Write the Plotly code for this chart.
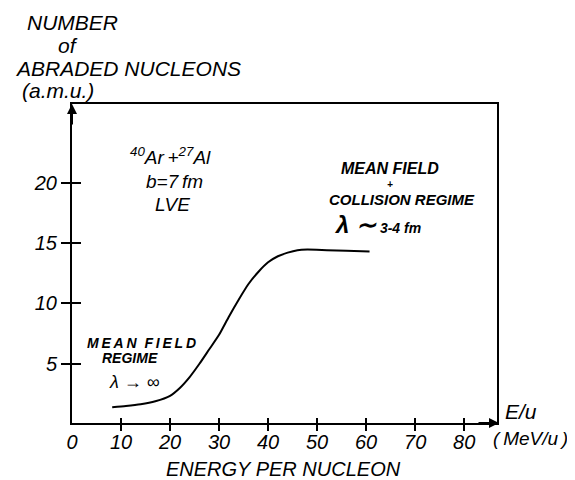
import plotly.graph_objects as go

# ---- data ----
energy = [8.2, 11, 14, 17, 20, 22, 24, 26, 28, 30, 32, 34, 36, 38, 40, 42, 44, 46, 48, 52, 56, 60.7]
nucleons = [1.4, 1.5, 1.65, 1.9, 2.35, 3.0, 3.9, 5.0, 6.2, 7.4, 8.9, 10.3, 11.6, 12.6, 13.4, 13.9, 14.2, 14.4, 14.45, 14.4, 14.35, 14.3]

x_tickvals = [0, 10, 20, 30, 40, 50, 60, 70, 80]
x_ticktext = ["0", "10", "20", "30", "40", "50", "60", "70", "80"]
x_tickmarks = [10, 20, 30, 40, 50, 60, 70, 80]
y_tickvals = [5, 10, 15, 20]
y_ticktext = ["5", "10", "15", "20"]

# ---- layout geometry (pixels in the final page) ----
W, H = 575, 480
OFF = 8  # default page body margin
L, R, T, B = 72, 497, 104, 423

def px(x):
    return (x - L) / (R - L)

def py(y):
    return (B - y) / (B - T)

FONT = "Liberation Sans"
ital = dict(family=FONT, color="black", style="italic")
TS = "\u2009"  # thin space used for letter spacing

def spaced(s):
    return TS.join(s)

fig = go.Figure()
fig.add_trace(go.Scatter(
    x=energy, y=nucleons, mode="lines",
    line=dict(color="black", width=2, shape="spline", smoothing=0.6),
    hoverinfo="skip", showlegend=False,
))
# helper traces so overlay axes (for crossing ticks) get drawn
fig.add_trace(go.Scatter(x=[None], y=[None], xaxis="x2", yaxis="y2",
                         showlegend=False, hoverinfo="skip"))
fig.add_trace(go.Scatter(x=[None], y=[None], xaxis="x3", yaxis="y",
                         showlegend=False, hoverinfo="skip"))

xr = [0, 86.7]
yr = [0.1, 26.5]
tick_style = dict(showgrid=False, zeroline=False, tickcolor="black", tickwidth=2)

fig.update_layout(
    width=W - OFF, height=H - OFF,
    margin=dict(l=L - OFF, r=W - R, t=T - OFF, b=H - B, pad=0),
    paper_bgcolor="white", plot_bgcolor="white",
    xaxis=dict(range=xr, tickmode="array", tickvals=x_tickvals, ticktext=x_ticktext,
               ticks="", showline=True, mirror=True, linecolor="black", linewidth=2,
               tickfont=dict(size=20, **ital), **tick_style),
    yaxis=dict(range=yr, tickmode="array", tickvals=y_tickvals, ticktext=y_ticktext,
               ticks="outside", ticklen=9, showline=True, mirror=True,
               linecolor="black", linewidth=2,
               tickfont=dict(size=20, **ital), **tick_style),
    xaxis2=dict(range=xr, overlaying="x", anchor="y2", side="bottom",
                tickmode="array", tickvals=x_tickmarks, ticks="inside", ticklen=5,
                showticklabels=False, showline=False, **tick_style),
    yaxis2=dict(range=yr, overlaying="y", anchor="x2", side="left",
                tickmode="array", tickvals=y_tickvals, ticks="inside", ticklen=9,
                showticklabels=False, showline=False, **tick_style),
    xaxis3=dict(range=xr, overlaying="x", anchor="y", side="bottom",
                tickmode="array", tickvals=x_tickmarks, ticks="outside", ticklen=7,
                showticklabels=False, showline=False, **tick_style),
)

def note(text, x, y, size, weight="normal", xanchor="center"):
    fig.add_annotation(text=text, x=px(x), y=py(y), xref="paper", yref="paper",
                       showarrow=False, xanchor=xanchor, yanchor="middle",
                       font=dict(size=size, weight=weight, **ital))

# y-axis title block
note("NUMBER", 72, 23, 21)
note("of", 68, 46, 21)
note("ABRADED NUCLEONS", 128, 68, 21)
note("(a.m.u.)", 58, 90, 21)

# system label
note("<sup>40</sup>Ar<sub> </sub>+<sup>27</sup>Al", 170, 157, 19)
note("b=7" + TS + "fm", 174, 181, 19)
note("LVE", 172, 204, 19)

# regime notes
note(spaced("MEAN") + "  " + spaced("FIELD"), 141, 343, 14, "bold")
note("REGIME", 130, 358, 14, "bold")
note("λ → ∞", 134, 382, 18)

note("MEAN FIELD", 390, 168, 16, "bold")
note("+", 390, 184, 10, "bold")
note("COLLISION REGIME", 402, 199, 15, "bold")
note("<span style='font-size:24px'>λ ∼</span> 3-4 fm", 377, 224, 14, "bold")

# x-axis labels
note("E/u", 521, 411, 21)
note("(" + TS + "MeV/u" + TS + ")", 530, 438, 19)
note("ENERGY PER NUCLEON", 283, 469, 20)

# axis arrows
fig.add_annotation(x=px(L), y=py(T), xref="paper", yref="paper", ax=0, ay=22,
                   showarrow=True, arrowhead=2, arrowsize=1, arrowwidth=2,
                   arrowcolor="black", text="")
fig.add_annotation(x=px(R + 2), y=py(B), xref="paper", yref="paper", ax=-22, ay=0,
                   showarrow=True, arrowhead=2, arrowsize=1, arrowwidth=2,
                   arrowcolor="black", text="")

fig.write_html("out.html")
